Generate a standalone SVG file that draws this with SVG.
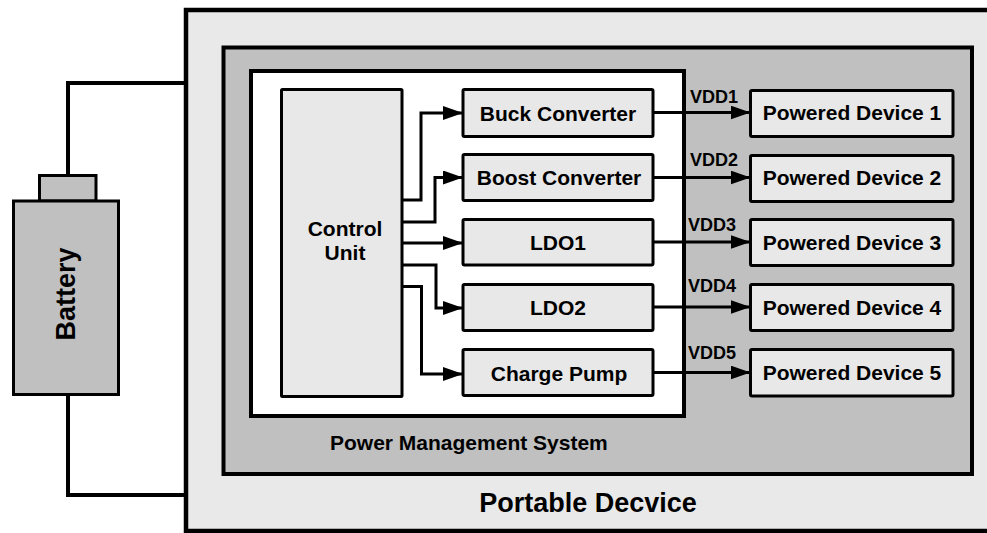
<svg xmlns="http://www.w3.org/2000/svg" width="987" height="533" viewBox="0 0 987 533">
<style>
text{font-family:"Liberation Sans",Arial,sans-serif;font-weight:bold;fill:#000}
.blk{fill:#e8e8e8;stroke:#000;stroke-width:3}
.w{fill:none;stroke:#000;stroke-width:3}
.t21{font-size:21px;text-anchor:middle}
.vdd{font-size:18px}
</style>
<defs>
<marker id="ah" markerUnits="userSpaceOnUse" markerWidth="22" markerHeight="14" refX="20" refY="7" orient="auto">
<path d="M0,0 L20,7 L0,14 Z" fill="#000"/>
</marker>
</defs>
<rect width="987" height="533" fill="#fff"/>
<g id="portable-device">
<rect x="186" y="10" width="830" height="521" fill="#e9e9e9" stroke="#000" stroke-width="4.5"/>
<text x="588" y="512" style="font-size:27px;text-anchor:middle">Portable Decvice</text>
</g>
<g id="power-management-system">
<rect x="223.5" y="47.5" width="748.5" height="426.5" fill="#c0c0c0" stroke="#000" stroke-width="4"/>
<rect x="251" y="71" width="433" height="345" fill="#fff" stroke="#000" stroke-width="4"/>
<text x="330" y="450" style="font-size:21px">Power Management System</text>
</g>
<g id="battery">
<rect x="39.5" y="175.5" width="56.5" height="25.5" fill="#c0c0c0" stroke="#000" stroke-width="3"/>
<rect x="13.5" y="201" width="105" height="193.5" fill="#c0c0c0" stroke="#000" stroke-width="3"/>
<text transform="translate(75,294) rotate(-90)" style="font-size:27px;text-anchor:middle">Battery</text>
</g>
<g id="control-unit">
<rect x="281.5" y="89.5" width="120.5" height="307" rx="1" class="blk"/>
<text x="345" y="236" class="t21">Control</text>
<text x="345" y="260" class="t21">Unit</text>
</g>
<g id="buck-converter">
<rect x="463" y="89.5" width="190" height="47" rx="1.5" class="blk"/>
<text x="558" y="120.5" class="t21">Buck Converter</text>
</g>
<g id="boost-converter">
<rect x="463" y="154.5" width="190" height="46" rx="1.5" class="blk"/>
<text x="559" y="185" class="t21">Boost Converter</text>
</g>
<g id="ldo1">
<rect x="463" y="219.5" width="190" height="45.5" rx="1.5" class="blk"/>
<text x="558" y="249.5" class="t21">LDO1</text>
</g>
<g id="ldo2">
<rect x="463" y="284.5" width="190" height="46" rx="1.5" class="blk"/>
<text x="558" y="315" class="t21">LDO2</text>
</g>
<g id="charge-pump">
<rect x="463" y="349.5" width="190" height="46" rx="1.5" class="blk"/>
<text x="559" y="380.5" class="t21">Charge Pump</text>
</g>
<g id="powered-device-1">
<rect x="750.5" y="90.5" width="202.5" height="46" rx="1.5" class="blk"/>
<text x="852" y="120" class="t21">Powered Device 1</text>
</g>
<g id="powered-device-2">
<rect x="750.5" y="155.5" width="202.5" height="46" rx="1.5" class="blk"/>
<text x="852" y="185" class="t21">Powered Device 2</text>
</g>
<g id="powered-device-3">
<rect x="750.5" y="219.5" width="202.5" height="46" rx="1.5" class="blk"/>
<text x="852" y="249.5" class="t21">Powered Device 3</text>
</g>
<g id="powered-device-4">
<rect x="750.5" y="284.5" width="202.5" height="46" rx="1.5" class="blk"/>
<text x="852" y="314.5" class="t21">Powered Device 4</text>
</g>
<g id="powered-device-5">
<rect x="750.5" y="349.5" width="202.5" height="46.5" rx="1.5" class="blk"/>
<text x="852" y="380" class="t21">Powered Device 5</text>
</g>
<g id="connectors">
<polyline points="68,175.5 68,83 186,83" fill="none" stroke="#000" stroke-width="4"/>
<polyline points="68,394.5 68,495 186,495" fill="none" stroke="#000" stroke-width="4"/>
<polyline points="402,200 421,200 421,113 463,113" class="w" marker-end="url(#ah)"/>
<polyline points="402,222 435,222 435,177.5 463,177.5" class="w" marker-end="url(#ah)"/>
<polyline points="402,243 463,243" class="w" marker-end="url(#ah)"/>
<polyline points="402,265 436,265 436,308 463,308" class="w" marker-end="url(#ah)"/>
<polyline points="402,286.5 421.5,286.5 421.5,374 463,374" class="w" marker-end="url(#ah)"/>
<line x1="653" y1="112.5" x2="750.5" y2="112.5" class="w" marker-end="url(#ah)"/>
<line x1="653" y1="177.5" x2="750.5" y2="177.5" class="w" marker-end="url(#ah)"/>
<line x1="653" y1="242" x2="750.5" y2="242" class="w" marker-end="url(#ah)"/>
<line x1="653" y1="307" x2="750.5" y2="307" class="w" marker-end="url(#ah)"/>
<line x1="653" y1="372.5" x2="750.5" y2="372.5" class="w" marker-end="url(#ah)"/>
<text x="690" y="103" class="vdd">VDD1</text>
<text x="690" y="166" class="vdd">VDD2</text>
<text x="688" y="231" class="vdd">VDD3</text>
<text x="688" y="292" class="vdd">VDD4</text>
<text x="688" y="359" class="vdd">VDD5</text>
</g>
</svg>
